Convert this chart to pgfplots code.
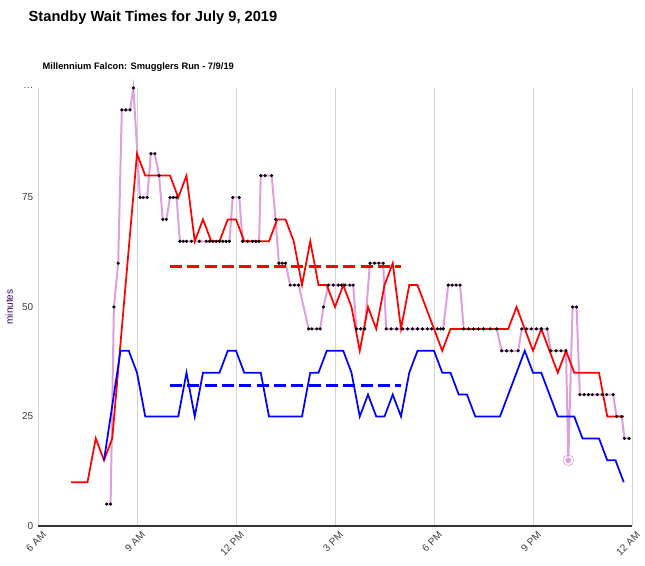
\documentclass[border=0pt]{standalone}
\usepackage{pgfplots}
\pgfplotsset{compat=1.18}
\usepackage{fontspec}
\setmainfont{Liberation Sans}
\definecolor{plum}{RGB}{221,160,221}
\definecolor{lab}{RGB}{60,60,60}
\begin{document}
\begin{tikzpicture}[x=1pt,y=1pt]
\useasboundingbox (-28.5pt,-30pt) rectangle (455.25pt,394.5pt);
\node[anchor=west,font=\bfseries\fontsize{11}{13}\selectfont] at (-10.5pt,381pt) {Standby Wait Times for July 9, 2019};
\node[anchor=west,font=\bfseries\fontsize{7}{8}\selectfont] at (0pt,344pt) {Millennium Falcon: Smugglers Run - 7/9/19};
\begin{axis}[at={(0,0)},anchor=origin,scale only axis,width=445.5pt,height=328.5pt,
 xmin=6,xmax=24,ymin=0,ymax=100,
 xtick={6,9,12,15,18,21,24},xticklabels={6 AM,9 AM,12 PM,3 PM,6 PM,9 PM,12 AM},
 ytick={0,25,50,75,100},yticklabels={0,25,50,75,\dots},
 xmajorgrids,major grid style={gray!35,line width=0.6pt},
 axis line style={draw=none},
 tick style={draw=none},
 ticklabel style={font=\fontsize{7.5}{9}\selectfont,text=lab},
 /pgf/number format/assume math mode=true,
 xticklabel style={rotate=45,anchor=north east,xshift=3pt,yshift=-1pt},
 ylabel={minutes},ylabel style={font=\fontsize{7.5}{9}\selectfont,text={rgb,255:red,51;green,0;blue,102}},
 clip=false]
\draw[black!80,line width=0.8pt] (axis cs:6,0) -- (axis cs:24,0);
\addplot[plum,line width=1.5pt,mark=*,mark size=1.1pt,mark options={solid,fill=black,draw=black,line width=0.2pt}] coordinates {
(8.08,5)(8.2,5)(8.3,50)(8.43,60)(8.54,95)(8.66,95)(8.79,95)(8.89,100)(9.09,75)(9.19,75)(9.31,75)(9.42,85)(9.54,85)(9.67,80)(9.78,70)(9.89,70)(10.0,75)(10.1,75)(10.2,75)(10.3,65)(10.4,65)(10.5,65)(10.65,65)(10.89,65)(11.1,65)(11.2,65)(11.3,65)(11.4,65)(11.5,65)(11.6,65)(11.7,65)(11.8,65)(11.9,75)(12.1,75)(12.2,65)(12.35,65)(12.5,65)(12.6,65)(12.7,65)(12.75,80)(12.88,80)(13.08,80)(13.2,70)(13.3,60)(13.4,60)(13.5,60)(13.64,55)(13.77,55)(13.9,55)(14.2,45)(14.3,45)(14.45,45)(14.55,45)(14.65,50)(14.8,55)(14.95,55)(15.1,55)(15.2,55)(15.3,55)(15.45,55)(15.55,55)(15.65,45)(15.78,45)(15.9,45)(16.06,60)(16.2,60)(16.33,60)(16.46,60)(16.55,45)(16.7,45)(16.87,45)(17.05,45)(17.2,45)(17.35,45)(17.5,45)(17.65,45)(17.8,45)(17.93,45)(18.1,45)(18.2,45)(18.28,45)(18.43,55)(18.55,55)(18.67,55)(18.79,55)(18.9,45)(19.05,45)(19.2,45)(19.35,45)(19.5,45)(19.7,45)(19.9,45)(20.05,40)(20.2,40)(20.35,40)(20.55,40)(20.66,45)(20.8,45)(20.95,45)(21.1,45)(21.25,45)(21.43,45)(21.54,40)(21.7,40)(21.85,40)(22.0,40)(22.07,15)(22.2,50)(22.32,50)(22.42,30)(22.55,30)(22.68,30)(22.8,30)(22.95,30)(23.1,30)(23.23,30)(23.43,30)(23.53,25)(23.69,25)(23.77,20)(23.91,20)};
\addplot[plum,only marks,mark=*,mark size=2.6pt,mark options={fill=plum,draw=white,line width=0.6pt}] coordinates {(22.07,15)};
\addplot[plum,only marks,mark=o,mark size=4pt,mark options={line width=0.5pt}] coordinates {(22.07,15)};
\addplot[red,line width=1.3pt] coordinates {
(7,10)(7.5,10)(7.75,20)(8,15)(8.25,20)(9,85)(9.25,80)(10,80)(10.25,75)(10.5,80)(10.75,65)(11,70)(11.25,65)(11.5,65)(11.75,70)(12,70)(12.25,65)(13,65)(13.25,70)(13.5,70)(13.75,65)(14,55)(14.25,65)(14.5,55)(14.75,55)(15,50)(15.25,55)(15.5,50)(15.75,40)(16,50)(16.25,45)(16.5,55)(16.75,60)(17,45)(17.25,55)(17.5,55)(17.75,50)(18,45)(18.25,40)(18.5,45)(20.25,45)(20.5,50)(20.75,45)(21,40)(21.25,45)(21.5,40)(21.75,35)(22,40)(22.25,35)(23,35)(23.25,25)(23.75,25)};
\addplot[blue,line width=1.3pt] coordinates {
(8,15)(8.5,40)(8.75,40)(9,35)(9.25,25)(10.25,25)(10.5,35)(10.75,25)(11,35)(11.5,35)(11.75,40)(12,40)(12.25,35)(12.75,35)(13,25)(14,25)(14.25,35)(14.5,35)(14.75,40)(15.25,40)(15.5,35)(15.75,25)(16,30)(16.25,25)(16.5,25)(16.75,30)(17,25)(17.25,35)(17.5,40)(18,40)(18.25,35)(18.5,35)(18.75,30)(19,30)(19.25,25)(20,25)(20.75,40)(21,35)(21.25,35)(21.75,25)(22.25,25)(22.5,20)(23,20)(23.25,15)(23.5,15)(23.75,10)};
\addplot[red,line width=2.2pt,dash pattern=on 9pt off 4pt] coordinates {(10,59.3)(17,59.3)};
\addplot[blue,line width=2.2pt,dash pattern=on 9pt off 4pt] coordinates {(10,32)(17,32)};
\end{axis}
\end{tikzpicture}
\end{document}
